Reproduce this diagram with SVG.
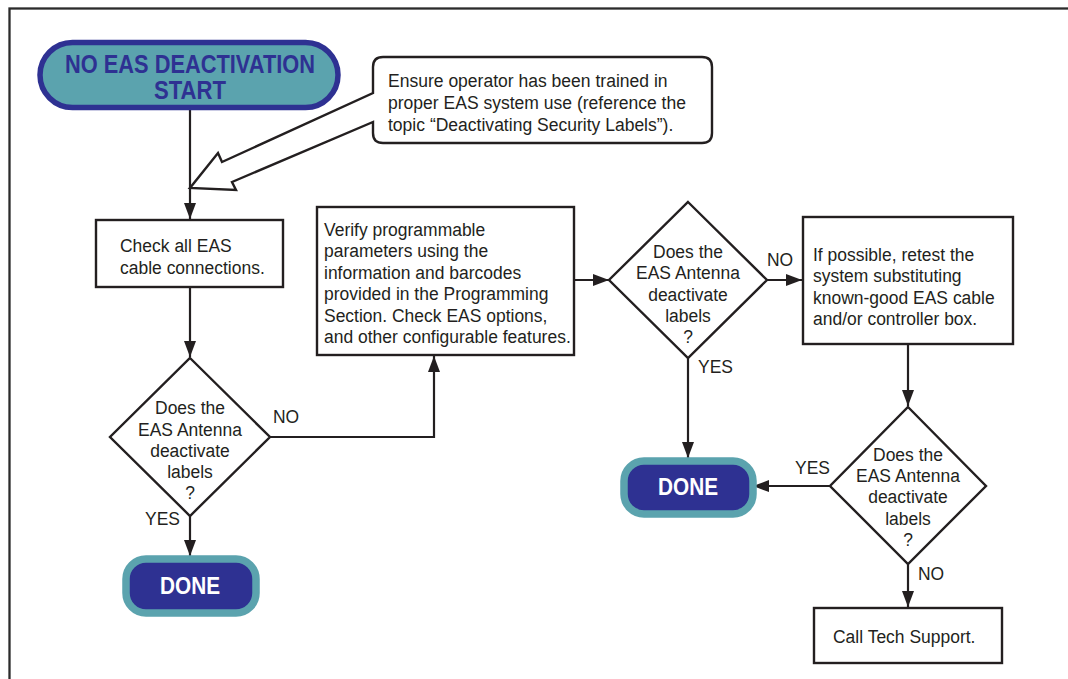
<svg xmlns="http://www.w3.org/2000/svg" width="1068" height="679" viewBox="0 0 1068 679">
<style>
.t{font-family:"Liberation Sans",Arial,sans-serif;font-size:19px;fill:#231f20}
.c{text-anchor:middle}
.box{fill:#fff;stroke:#231f20;stroke-width:2.4}
.ln{fill:none;stroke:#231f20;stroke-width:2.2}
.term{font-family:"Liberation Sans",Arial,sans-serif;font-weight:bold;text-anchor:middle}
</style>
<defs>
<marker id="ah" markerUnits="userSpaceOnUse" markerWidth="17" markerHeight="13" refX="16" refY="6" orient="auto">
<path d="M0,0 L16,6 L0,12 Z" fill="#231f20"/>
</marker>
</defs>
<rect x="9.5" y="8.5" width="1100" height="700" fill="none" stroke="#2b2b2b" stroke-width="2.3"/>

<g id="connectors">
<line class="ln" x1="190" y1="110" x2="190" y2="219" marker-end="url(#ah)"/>
<line class="ln" x1="190" y1="287" x2="190" y2="357" marker-end="url(#ah)"/>
<line class="ln" x1="190" y1="516" x2="190" y2="556" marker-end="url(#ah)"/>
<polyline class="ln" points="270,437 434,437 434,356" marker-end="url(#ah)"/>
<line class="ln" x1="574" y1="280" x2="609" y2="280" marker-end="url(#ah)"/>
<line class="ln" x1="767" y1="280" x2="802" y2="280" marker-end="url(#ah)"/>
<line class="ln" x1="688" y1="358" x2="688" y2="458" marker-end="url(#ah)"/>
<line class="ln" x1="908" y1="344" x2="908" y2="406" marker-end="url(#ah)"/>
<line class="ln" x1="830" y1="486" x2="753" y2="486" marker-end="url(#ah)"/>
<line class="ln" x1="908" y1="563" x2="908" y2="607" marker-end="url(#ah)"/>
<g transform="translate(273,0) scale(0.92,1)"><text class="t" x="0" y="423">NO</text></g>
<g transform="translate(145,0) scale(0.92,1)"><text class="t" x="0" y="525">YES</text></g>
<g transform="translate(767,0) scale(0.92,1)"><text class="t" x="0" y="266">NO</text></g>
<g transform="translate(698,0) scale(0.92,1)"><text class="t" x="0" y="373">YES</text></g>
<g transform="translate(795,0) scale(0.92,1)"><text class="t" x="0" y="474">YES</text></g>
<g transform="translate(918,0) scale(0.92,1)"><text class="t" x="0" y="580">NO</text></g>
</g>

<g id="start">
<rect x="40" y="42.5" width="298" height="65" rx="32.5" fill="#5ba3ae" stroke="#2e3192" stroke-width="5.5"/>
<text class="term" x="190" y="73" font-size="25" fill="#2e3192" textLength="250" lengthAdjust="spacingAndGlyphs">NO EAS DEACTIVATION</text>
<text class="term" x="190" y="99" font-size="25" fill="#2e3192" textLength="72" lengthAdjust="spacingAndGlyphs">START</text>
</g>

<g id="callout">
<path class="box" stroke-linejoin="miter" d="M373,93 L373,67 Q373,57 383,57 L702,57 Q712,57 712,67 L712,133 Q712,143 702,143 L383,143 Q373,143 373,133 L373,122 L232,182 L236,190 L190,188 L218,153 L222,162 Z"/>
<g transform="translate(388,0) scale(0.923,1)">
<text class="t" x="0" y="87" font-size="19.5">Ensure operator has been trained in</text>
<text class="t" x="0" y="109" font-size="19.5">proper EAS system use (reference the</text>
<text class="t" x="0" y="131" font-size="19.5">topic “Deactivating Security Labels”).</text>
</g>
</g>

<g id="check">
<rect class="box" x="96" y="220" width="187" height="67"/>
<g transform="translate(120,0) scale(0.92,1)">
<text class="t" x="0" y="252">Check all EAS</text>
<text class="t" x="0" y="274">cable connections.</text>
</g>
</g>

<g id="decision1">
<polygon class="box" points="190,358 270,437 190,516 110,437"/>
<g transform="translate(190,0) scale(0.92,1)">
<text class="t c" x="0" y="414">Does the</text>
<text class="t c" x="0" y="436">EAS Antenna</text>
<text class="t c" x="0" y="457">deactivate</text>
<text class="t c" x="0" y="478">labels</text>
<text class="t c" x="0" y="499">?</text>
</g>
</g>

<g id="done1">
<rect x="126" y="559" width="130" height="54" rx="20" fill="#2e3192" stroke="#5ba3ae" stroke-width="7.5"/>
<text class="term" x="190" y="594" font-size="23" fill="#fff" textLength="60" lengthAdjust="spacingAndGlyphs">DONE</text>
</g>

<g id="verify">
<rect class="box" x="317" y="207" width="257" height="148"/>
<g transform="translate(324,0) scale(0.92,1)">
<text class="t" x="0" y="236">Verify programmable</text>
<text class="t" x="0" y="257.5">parameters using the</text>
<text class="t" x="0" y="279">information and barcodes</text>
<text class="t" x="0" y="300.5">provided in the Programming</text>
<text class="t" x="0" y="322">Section. Check EAS options,</text>
<text class="t" x="0" y="343.5">and other configurable features.</text>
</g>
</g>

<g id="decision2">
<polygon class="box" points="688,202 767,280 688,358 609,280"/>
<g transform="translate(688,0) scale(0.92,1)">
<text class="t c" x="0" y="258">Does the</text>
<text class="t c" x="0" y="279.5">EAS Antenna</text>
<text class="t c" x="0" y="301">deactivate</text>
<text class="t c" x="0" y="322">labels</text>
<text class="t c" x="0" y="343">?</text>
</g>
</g>

<g id="retest">
<rect class="box" x="803" y="217" width="210" height="127"/>
<g transform="translate(813,0) scale(0.92,1)">
<text class="t" x="0" y="261">If possible, retest the</text>
<text class="t" x="0" y="282.5">system substituting</text>
<text class="t" x="0" y="304">known-good EAS cable</text>
<text class="t" x="0" y="325.5">and/or controller box.</text>
</g>
</g>

<g id="done2">
<rect x="624" y="461" width="129" height="53" rx="20" fill="#2e3192" stroke="#5ba3ae" stroke-width="7.5"/>
<text class="term" x="688" y="495" font-size="23" fill="#fff" textLength="60" lengthAdjust="spacingAndGlyphs">DONE</text>
</g>

<g id="decision3">
<polygon class="box" points="908,407 986,486 908,564 830,486"/>
<g transform="translate(908,0) scale(0.92,1)">
<text class="t c" x="0" y="461">Does the</text>
<text class="t c" x="0" y="482">EAS Antenna</text>
<text class="t c" x="0" y="503.5">deactivate</text>
<text class="t c" x="0" y="525">labels</text>
<text class="t c" x="0" y="546">?</text>
</g>
</g>

<g id="support">
<rect class="box" x="814" y="608" width="188" height="55"/>
<g transform="translate(833,0) scale(0.92,1)">
<text class="t" x="0" y="643">Call Tech Support.</text>
</g>
</g>
</svg>
